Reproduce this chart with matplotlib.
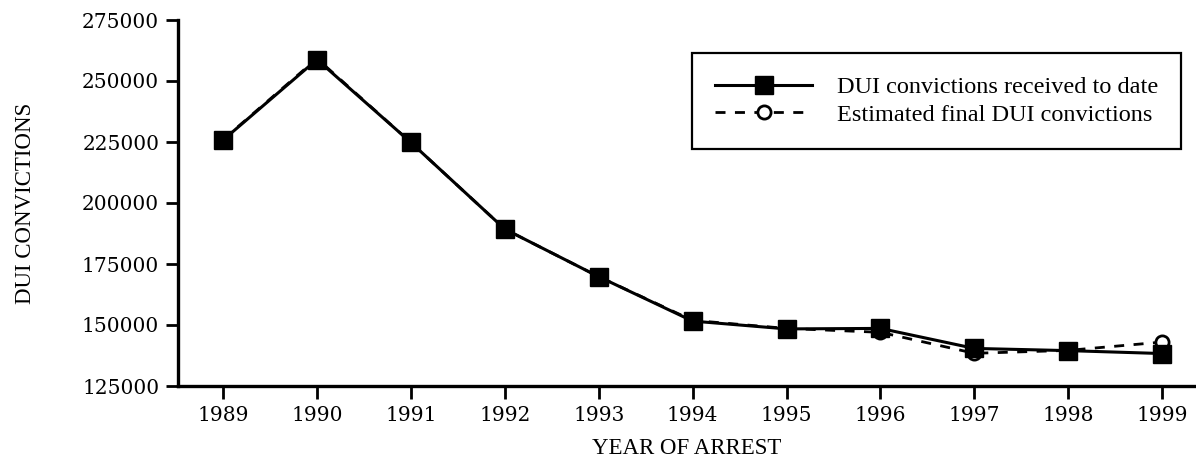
import matplotlib
matplotlib.use("Agg")
import matplotlib.pyplot as plt

years = [1989, 1990, 1991, 1992, 1993, 1994, 1995, 1996, 1997, 1998, 1999]
received = [225800, 258800, 224800, 189300, 169800, 151600, 148400, 148600, 140400, 139500, 138300]
estimated = [226000, 259200, 224800, 189300, 169800, 151900, 148600, 147000, 138400, 139600, 143000]
yticks = [125000, 150000, 175000, 200000, 225000, 250000, 275000]

fig = plt.figure(figsize=(11.96, 4.62), dpi=100)
ax = fig.add_axes([178/1196, 1-386/462, (1196-178)/1196, (386-20)/462])

ax.plot(years, estimated, linestyle=(0, (3.6, 3.4)), color="black", linewidth=2.0,
        marker="o", markersize=9.5, markerfacecolor="white", markeredgecolor="black",
        markeredgewidth=2.0, label="Estimated final DUI convictions", zorder=2)
ax.plot(years, received, linestyle="-", color="black", linewidth=2.2,
        marker="s", markersize=13, markerfacecolor="black", markeredgecolor="black",
        label="DUI convictions received to date", zorder=3)

ax.set_xlim(1988.52, 1999.36)
ax.set_ylim(125000, 275000)
ax.set_xticks(years)
ax.set_xticklabels([str(y) for y in years])
ax.set_yticks(yticks)
ax.set_yticklabels([str(v) for v in yticks])

for s in ["top", "right"]:
    ax.spines[s].set_visible(False)
for s in ["left", "bottom"]:
    ax.spines[s].set_linewidth(2.4)

ax.tick_params(axis="both", direction="out", length=9, width=2, color="black",
               labelsize=14.5)
ax.tick_params(axis="y", pad=4.5)
ax.tick_params(axis="x", pad=5.5)
for lab in ax.get_xticklabels() + ax.get_yticklabels():
    lab.set_family("DejaVu Serif")

ax.set_xlabel("YEAR OF ARREST", family="Liberation Serif", fontsize=16.5, labelpad=9.5)
ax.set_ylabel("DUI CONVICTIONS", family="Liberation Serif", fontsize=16.5, labelpad=33)

handles, labels = ax.get_legend_handles_labels()
leg = ax.legend(handles[::-1], labels[::-1], loc="upper right",
                bbox_to_anchor=(1181/1196, 1-53/462), bbox_transform=fig.transFigure,
                prop={"family": "Liberation Serif", "size": 17.5},
                frameon=True, fancybox=False, edgecolor="black", framealpha=1,
                handlelength=4.0, handletextpad=1.0, borderpad=0.95, labelspacing=0.24,
                borderaxespad=0)
leg.get_frame().set_linewidth(1.6)

fig.savefig("out.png", dpi=100)
